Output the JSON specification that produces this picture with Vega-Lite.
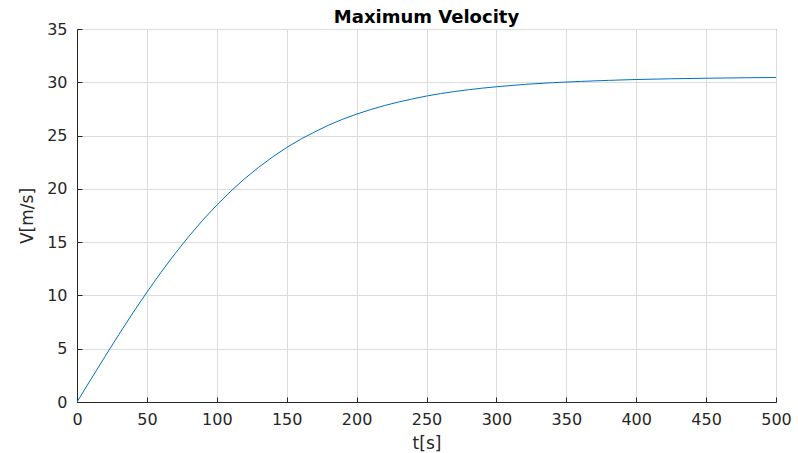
{
  "$schema": "https://vega.github.io/schema/vega-lite/v6.json",
  "width": 699,
  "height": 373,
  "autosize": "none",
  "padding": {"left": 77, "top": 29, "right": 22, "bottom": 51},
  "background": "white",
  "config": {
    "view": {"stroke": "#262626", "strokeWidth": 1},
    "font": "DejaVu Sans"
  },
  "title": {
    "text": "Maximum Velocity",
    "fontSize": 18,
    "fontWeight": "bold",
    "font": "DejaVu Sans",
    "color": "#000000",
    "anchor": "middle",
    "offset": 4,
    "dy": 10
  },
  "data": {
    "values": [
      {"t": 0, "v": 0},
      {"t": 10, "v": 2.14},
      {"t": 20, "v": 4.26},
      {"t": 30, "v": 6.34},
      {"t": 40, "v": 8.36},
      {"t": 50, "v": 10.30},
      {"t": 60, "v": 12.15},
      {"t": 70, "v": 13.90},
      {"t": 80, "v": 15.54},
      {"t": 90, "v": 17.07},
      {"t": 100, "v": 18.48},
      {"t": 110, "v": 19.78},
      {"t": 120, "v": 20.96},
      {"t": 130, "v": 22.03},
      {"t": 140, "v": 23.00},
      {"t": 150, "v": 23.88},
      {"t": 160, "v": 24.66},
      {"t": 170, "v": 25.34},
      {"t": 180, "v": 25.98},
      {"t": 190, "v": 26.53},
      {"t": 200, "v": 27.01},
      {"t": 210, "v": 27.44},
      {"t": 220, "v": 27.82},
      {"t": 230, "v": 28.15},
      {"t": 240, "v": 28.44},
      {"t": 250, "v": 28.71},
      {"t": 260, "v": 28.94},
      {"t": 270, "v": 29.13},
      {"t": 280, "v": 29.30},
      {"t": 290, "v": 29.45},
      {"t": 300, "v": 29.58},
      {"t": 320, "v": 29.80},
      {"t": 340, "v": 29.96},
      {"t": 360, "v": 30.08},
      {"t": 380, "v": 30.18},
      {"t": 400, "v": 30.26},
      {"t": 425, "v": 30.33},
      {"t": 450, "v": 30.38},
      {"t": 475, "v": 30.42},
      {"t": 500, "v": 30.45}
    ]
  },
  "mark": {"type": "line", "color": "#0072BD", "strokeWidth": 1, "clip": true},
  "encoding": {
    "x": {
      "field": "t",
      "type": "quantitative",
      "scale": {"domain": [0, 500], "nice": false, "zero": false},
      "axis": {
        "title": "t[s]",
        "values": [0, 50, 100, 150, 200, 250, 300, 350, 400, 450, 500],
        "grid": true,
        "gridColor": "#dcdcdc",
        "gridWidth": 1,
        "domainColor": "#262626",
        "tickColor": "#262626",
        "tickSize": -5,
        "labelPadding": 14,
        "labelFontSize": 16,
        "labelColor": "#262626",
        "labelFont": "DejaVu Sans",
        "labelFlush": false,
        "titleFontSize": 17,
        "titleFontWeight": "normal",
        "titleColor": "#262626",
        "titleFont": "DejaVu Sans",
        "titlePadding": 8
      }
    },
    "y": {
      "field": "v",
      "type": "quantitative",
      "scale": {"domain": [0, 35], "nice": false},
      "axis": {
        "title": "V[m/s]",
        "values": [0, 5, 10, 15, 20, 25, 30, 35],
        "grid": true,
        "gridColor": "#dcdcdc",
        "gridWidth": 1,
        "domainColor": "#262626",
        "tickColor": "#262626",
        "tickSize": -5,
        "labelPadding": 15,
        "labelFontSize": 16,
        "labelColor": "#262626",
        "labelFont": "DejaVu Sans",
        "labelFlush": false,
        "titleFontSize": 17,
        "titleFontWeight": "normal",
        "titleColor": "#262626",
        "titleFont": "DejaVu Sans",
        "titlePadding": 10
      }
    }
  }
}
